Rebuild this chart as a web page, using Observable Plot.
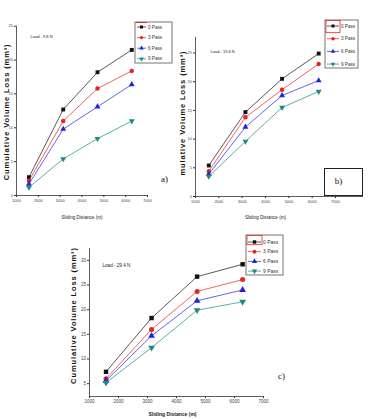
<!DOCTYPE html>
<html>
<head>
<meta charset="utf-8">
<script src="https://cdn.jsdelivr.net/npm/d3@7"></script>
<script src="https://cdn.jsdelivr.net/npm/@observablehq/plot@0.6"></script>
<style>
  html, body { margin: 0; padding: 0; background: #fff; }
  #fig { position: relative; width: 374px; height: 419px; overflow: hidden;
         font-family: "Liberation Sans", Arial, sans-serif; }
  #fig > svg { position: absolute; left: 0; top: 0; }
  #fig > .tagbox { position: absolute; border: 1px solid #222; box-sizing: border-box; }
</style>
</head>
<body>
<div id="fig"></div>
<script>
// Sliding distance (m) at which volume loss was measured
const distance = [1570, 3140, 4710, 6280];
const passes = ["0 Pass", "3 Pass", "6 Pass", "9 Pass"];
const passColors = ["#111111", "#e8231e", "#2222dd", "#1e8a80"];
const xTicks = [1000, 2000, 3000, 4000, 5000, 6000, 7000];
const yTicksAB = [0, 5, 10, 15, 20, 25];
const yTicksC = [5, 10, 15, 20, 25, 30];

// Cumulative volume loss (mm³), load 9.8 N
const lossA0 = [2.7, 12.7, 18.2, 21.5];
const lossA3 = [2.2, 11.0, 15.8, 18.4];
const lossA6 = [1.7, 9.8, 13.1, 16.4];
const lossA9 = [1.2, 5.4, 8.4, 11.0];
// load 19.6 N
const lossB0 = [5.4, 14.7, 20.5, 24.9];
const lossB3 = [4.4, 13.8, 18.6, 23.1];
const lossB6 = [3.9, 12.1, 17.6, 20.2];
const lossB9 = [3.5, 9.6, 15.5, 18.3];
// load 29.4 N
const lossC0 = [7.4, 18.3, 26.7, 29.2];
const lossC3 = [6.0, 16.0, 23.7, 26.1];
const lossC6 = [5.6, 14.7, 21.8, 24.0];
const lossC9 = [5.2, 12.3, 19.9, 21.6];

// Downward-pointing triangle for the 9-pass series
const triangleDown = {
  draw(context, size) {
    const y = -Math.sqrt(size / (Math.sqrt(3) * 3));
    context.moveTo(0, -y * 2);
    context.lineTo(Math.sqrt(3) * y, y);
    context.lineTo(-Math.sqrt(3) * y, y);
    context.closePath();
  }
};
const passSymbols = [d3.symbolSquare, d3.symbolCircle, d3.symbolTriangle, triangleDown];

const fig = document.getElementById("fig");
const W = 374, H = 419;

function panel(cfg) {
  const rows = passes.flatMap((p, i) =>
    cfg.losses[i].map((v, j) => ({pass: p, distance: distance[j], loss: v})));
  const seriesMarks = passes.flatMap((p, i) => {
    const data = rows.filter(d => d.pass === p);
    return [
      Plot.line(data, {x: "distance", y: "loss", stroke: passColors[i], strokeWidth: 0.7}),
      Plot.dot(data, {x: "distance", y: "loss", fill: passColors[i], stroke: "none",
                      symbol: passSymbols[i], r: cfg.r})
    ];
  });
  const svg = Plot.plot({
    width: W, height: H,
    marginLeft: cfg.m[0], marginRight: cfg.m[1], marginTop: cfg.m[2], marginBottom: cfg.m[3],
    style: {fontFamily: "Liberation Sans, Arial, sans-serif", color: "#222", background: "transparent", overflow: "visible"},
    x: {domain: cfg.xDomain},
    y: {domain: cfg.yDomain},
    marks: [
      Plot.ruleX([cfg.xDomain[0]], {stroke: "#333", strokeWidth: 0.8}),
      Plot.ruleY([cfg.yDomain[0]], {stroke: "#333", strokeWidth: 0.8}),
      Plot.axisX({ticks: xTicks, tickSize: 2, tickPadding: 1.5, fontSize: cfg.tickFont,
                  tickFormat: d3.format("d"), label: null, stroke: "#333", fill: "#444"}),
      Plot.axisY({ticks: cfg.yTicks, tickSize: 2, tickPadding: 1.5, fontSize: cfg.tickFont,
                  label: null, stroke: "#333", fill: "#444"}),
      ...seriesMarks,
      Plot.text([cfg.load], {text: d => d, frameAnchor: "top-left", textAnchor: "start",
                             dx: cfg.loadPos[0], dy: cfg.loadPos[1], fontSize: cfg.loadFont, fill: "#222"}),
      Plot.text([cfg.xLabel], {text: d => d, frameAnchor: "bottom", textAnchor: "middle", lineAnchor: "middle",
                               dx: cfg.xLabelPos[0], dy: cfg.xLabelPos[1],
                               fontSize: cfg.xLabelFont, fontWeight: cfg.xLabelWeight, fill: "#222"}),
      Plot.text([cfg.yLabel], {text: d => d, frameAnchor: "left", rotate: -90,
                               textAnchor: "middle", lineAnchor: "middle",
                               dx: cfg.yLabelPos[0], dy: cfg.yLabelPos[1],
                               fontSize: cfg.yLabelFont, fontWeight: "bold", fill: "#111"}),
      Plot.text([cfg.tag], {text: d => d, frameAnchor: "bottom-right", textAnchor: "middle", lineAnchor: "middle",
                            dx: cfg.tagPos[0], dy: cfg.tagPos[1],
                            fontFamily: "Liberation Serif, Times New Roman, serif", fontSize: 9, fill: "#111"})
    ]
  });
  // Spread the rotated axis title a little, as in the printed figure
  d3.select(svg).selectAll("text")
    .filter(function() { return this.textContent === cfg.yLabel; })
    .attr("letter-spacing", 0.9);
  return svg;
}

const yLabelFull = "Cumulative Volume Loss (mm³)";

fig.append(panel({
  losses: [lossA0, lossA3, lossA6, lossA9],
  m: [16, 227, 25.7, 224], xDomain: [1000, 7000], yDomain: [0, 25], yTicks: yTicksAB,
  r: 2.2, tickFont: 4,
  load: "Load - 9.8 N", loadPos: [14, 8.5], loadFont: 4,
  xLabel: "Sliding Distance (m)", xLabelPos: [0, 22], xLabelFont: 4.6, xLabelWeight: "normal",
  yLabel: yLabelFull, yLabelPos: [-9.5, 1], yLabelFont: 7.5,
  tag: "a)", tagPos: [17, -16]
}));

fig.append(panel({
  losses: [lossB0, lossB3, lossB6, lossB9],
  m: [195, 11, 37, 223], xDomain: [1000, 8200], yDomain: [0, 27.7], yTicks: yTicksAB,
  r: 2.2, tickFont: 4,
  load: "Load - 19.6 N", loadPos: [15, 13], loadFont: 4,
  xLabel: "Sliding Distance (m)", xLabelPos: [-14, 21], xLabelFont: 4.6, xLabelWeight: "normal",
  yLabel: "mulative Volume Loss (mm³)", yLabelPos: [-13, -4], yLabelFont: 7.5,
  tag: "b)", tagPos: [-25, -15]
}));

fig.append(panel({
  losses: [lossC0, lossC3, lossC6, lossC9],
  m: [89, 111, 248, 23], xDomain: [1000, 7000], yDomain: [2.4, 32.4], yTicks: yTicksC,
  r: 2.5, tickFont: 4.5,
  load: "Load - 29.4 N", loadPos: [13, 15], loadFont: 4.6,
  xLabel: "Sliding Distance (m)", xLabelPos: [-4, 18], xLabelFont: 5, xLabelWeight: "bold",
  yLabel: yLabelFull, yLabelPos: [-16, -7], yLabelFont: 7.5,
  tag: "c)", tagPos: [18, -20]
}));

// Box around the "b)" panel tag
const tagBox = document.createElement("div");
tagBox.className = "tagbox";
Object.assign(tagBox.style, {left: "324px", top: "168px", width: "39px", height: "28px"});
fig.append(tagBox);

// Legends: a line sample with its marker, then the series name
const overlay = d3.select(fig).append("svg").attr("width", W).attr("height", H);
const legends = [
  {box: [135, 22, 37, 41], rowY: 5, step: 10.6, line: [2, 11], textX: 13, font: 4.6, sym: 9, accent: "line"},
  {box: [325, 20, 33, 48], rowY: 6, step: 12.7, line: [2, 14], textX: 16, font: 4.6, sym: 9, accent: "rect"},
  {box: [246, 235, 37, 40], rowY: 7, step: 9.7, line: [2, 15], textX: 17, font: 5, sym: 12, accent: "rect"}
];
legends.forEach(L => {
  const [bx, by, bw, bh] = L.box;
  const g = overlay.append("g").attr("transform", `translate(${bx},${by})`);
  g.append("rect").attr("width", bw).attr("height", bh)
    .attr("fill", "#fff").attr("stroke", "#666").attr("stroke-width", 0.9);
  passes.forEach((p, i) => {
    const y = L.rowY + i * L.step;
    g.append("line").attr("x1", L.line[0]).attr("x2", L.line[1]).attr("y1", y).attr("y2", y)
      .attr("stroke", passColors[i]).attr("stroke-width", 0.7);
    g.append("path").attr("d", d3.symbol(passSymbols[i], L.sym)())
      .attr("transform", `translate(${(L.line[0] + L.line[1]) / 2},${y})`)
      .attr("fill", passColors[i]);
    g.append("text").attr("x", L.textX).attr("y", y).attr("dy", "0.35em")
      .attr("font-size", L.font).attr("fill", "#333")
      .attr("font-family", "Liberation Sans, Arial, sans-serif").text(p);
  });
  if (L.accent === "line") {
    g.append("line").attr("x1", 1).attr("x2", 12).attr("y1", 0.5).attr("y2", 0.5)
      .attr("stroke", "#e8231e").attr("stroke-width", 0.9);
  } else {
    g.append("rect").attr("x", 1).attr("y", 0.5).attr("width", L.line[1]).attr("height", L.step - 0.5)
      .attr("fill", "none").attr("stroke", "#e8231e").attr("stroke-width", 0.8);
  }
});
</script>
</body>
</html>
